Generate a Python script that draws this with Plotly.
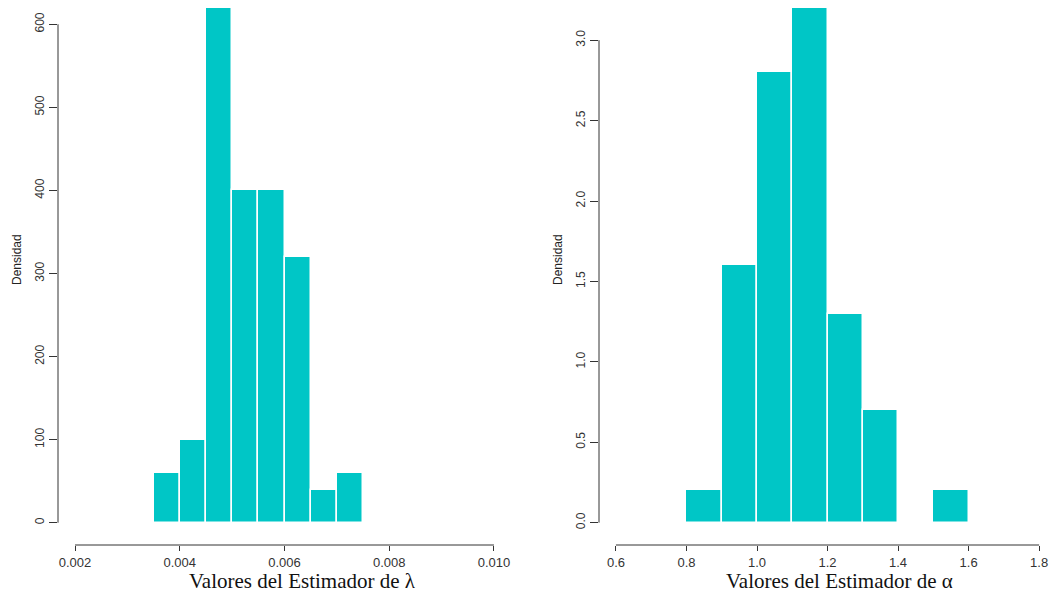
import plotly.graph_objects as go

W, H = 1055, 592

# ---- data ----
lam_edges = [0.0035, 0.0040, 0.0045, 0.0050, 0.0055, 0.0060, 0.0065, 0.0070, 0.0075]
lam_density = [60, 100, 620, 400, 400, 320, 40, 60]
lam_xticks = [0.002, 0.004, 0.006, 0.008, 0.010]
lam_xticklabels = ["0.002", "0.004", "0.006", "0.008", "0.010"]
lam_yticks = [0, 100, 200, 300, 400, 500, 600]

alp_edges = [0.8, 0.9, 1.0, 1.1, 1.2, 1.3, 1.4, 1.5, 1.6]
alp_density = [0.2, 1.6, 2.8, 3.2, 1.3, 0.7, 0.0, 0.2]
alp_xticks = [0.6, 0.8, 1.0, 1.2, 1.4, 1.6, 1.8]
alp_xticklabels = ["0.6", "0.8", "1.0", "1.2", "1.4", "1.6", "1.8"]
alp_yticks = [0.0, 0.5, 1.0, 1.5, 2.0, 2.5, 3.0]
alp_yticklabels = ["0.0", "0.5", "1.0", "1.5", "2.0", "2.5", "3.0"]

BAR = "#00C6C6"
AX = "#333333"

def mids(e):
    return [(a + b) / 2 for a, b in zip(e[:-1], e[1:])]

def widths(e):
    return [b - a for a, b in zip(e[:-1], e[1:])]

fig = go.Figure()
fig.add_trace(go.Bar(x=mids(lam_edges), y=lam_density, width=widths(lam_edges),
                     marker=dict(color=BAR, line=dict(color="white", width=1.5)),
                     xaxis="x", yaxis="y", showlegend=False, hoverinfo="skip"))
fig.add_trace(go.Bar(x=mids(alp_edges), y=alp_density, width=widths(alp_edges),
                     marker=dict(color=BAR, line=dict(color="white", width=1.5)),
                     xaxis="x2", yaxis="y2", showlegend=False, hoverinfo="skip"))

ybot = (H - 545) / H
dom1 = [58 / W, 511 / W]
dom2 = [599 / W, 1.0]

tickfont_x = dict(family="Liberation Sans, Arial, sans-serif", size=13, color=AX)
tickfont_y = dict(family="Liberation Sans, Arial, sans-serif", size=12, color=AX)

common_x = dict(showgrid=False, zeroline=False, showline=False, ticks="outside",
                ticklen=5, tickwidth=1, tickcolor=AX, tickfont=tickfont_x)
common_y = dict(showgrid=False, zeroline=False, showline=False, ticks="outside",
                ticklen=8, tickwidth=1, tickcolor=AX, tickfont=tickfont_y,
                tickangle=-90)

fig.update_layout(
    width=W, height=H,
    margin=dict(l=0, r=0, t=0, b=0),
    paper_bgcolor="white", plot_bgcolor="white",
    bargap=0,
    xaxis=dict(domain=dom1, anchor="y", range=[0.001675, 0.010325],
               tickvals=lam_xticks, ticktext=lam_xticklabels, **common_x),
    yaxis=dict(domain=[ybot, 1], anchor="x", range=[-26.8, 629.2],
               tickvals=lam_yticks, ticktext=[str(v) for v in lam_yticks], **common_y),
    xaxis2=dict(domain=dom2, anchor="y2", range=[0.552, 1.845],
                tickvals=alp_xticks, ticktext=alp_xticklabels, **common_x),
    yaxis2=dict(domain=[ybot, 1], anchor="x2", range=[-0.139, 3.25],
                tickvals=alp_yticks, ticktext=alp_yticklabels, **common_y),
)

line = dict(color=AX, width=1)
# R-style axis lines spanning only the tick range
fig.add_shape(type="line", xref="x", yref="paper", x0=lam_xticks[0], x1=lam_xticks[-1],
              y0=ybot, y1=ybot, line=line)
fig.add_shape(type="line", xref="paper", yref="y", x0=dom1[0], x1=dom1[0],
              y0=lam_yticks[0], y1=lam_yticks[-1], line=line)
fig.add_shape(type="line", xref="x2", yref="paper", x0=alp_xticks[0], x1=alp_xticks[-1],
              y0=ybot, y1=ybot, line=line)
fig.add_shape(type="line", xref="paper", yref="y2", x0=dom2[0], x1=dom2[0],
              y0=alp_yticks[0], y1=alp_yticks[-1], line=line)

titlefont = dict(family="Liberation Serif, Times New Roman, serif", size=21, color="#111111")
fig.add_annotation(text="Valores del Estimador de λ", xref="paper", yref="paper",
                   x=302 / W, y=(H - 581) / H, showarrow=False, font=titlefont,
                   xanchor="center", yanchor="middle", borderpad=0)
fig.add_annotation(text="Valores del Estimador de α", xref="paper", yref="paper",
                   x=839 / W, y=(H - 581) / H, showarrow=False, font=titlefont,
                   xanchor="center", yanchor="middle", borderpad=0)

yfont = dict(family="Liberation Sans, Arial, sans-serif", size=12, color="#222222")
fig.add_annotation(text="Densidad", xref="paper", yref="paper", x=17 / W, y=(H - 260) / H,
                   showarrow=False, textangle=-90, font=yfont, xanchor="center", yanchor="middle")
fig.add_annotation(text="Densidad", xref="paper", yref="paper", x=558 / W, y=(H - 260) / H,
                   showarrow=False, textangle=-90, font=yfont, xanchor="center", yanchor="middle")

fig.write_html("out.html")
